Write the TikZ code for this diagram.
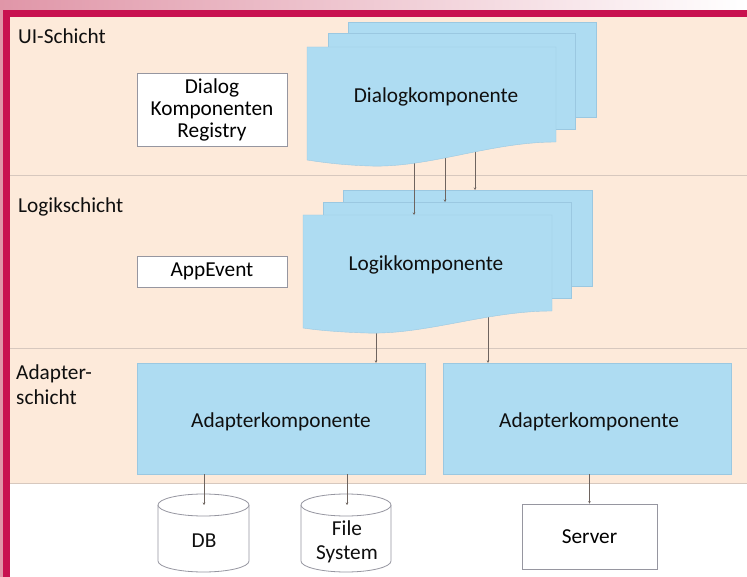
\documentclass[tikz,border=0pt]{standalone}
\usepackage{fontspec}
\setmainfont{Carlito}
\usetikzlibrary{arrows.meta}
\definecolor{peach}{RGB}{253,234,218}
\definecolor{crim}{RGB}{200,18,80}
\definecolor{pinkl}{RGB}{224,150,168}
\definecolor{bluef}{RGB}{174,220,242}
\definecolor{blued}{RGB}{155,200,225}
\definecolor{sepc}{RGB}{215,200,190}
\definecolor{connc}{RGB}{110,100,95}
\definecolor{boxd}{RGB}{150,150,160}
\definecolor{txt}{RGB}{15,15,15}
\tikzset{
  blueshape/.style={fill=bluef, draw=blued, line width=0.4pt},
  whitebox/.style={fill=white, draw=boxd, line width=0.8pt, align=center, inner sep=0pt},
  adapterbox/.style={fill=bluef, draw=blued, line width=0.4pt, minimum width=288pt, minimum height=111pt, inner sep=0pt},
  conn/.style={draw=connc, line width=0.5pt, -{Stealth[length=2.5pt,width=2.5pt]}},
  layerlabel/.style={anchor=west, inner sep=0pt, align=left, text=txt},
  lbl/.style={text=txt, align=center, inner sep=0pt}
}
\begin{document}
\begin{tikzpicture}[x=1pt,y=-1pt, font=\fontsize{21.3}{22}\selectfont]
\useasboundingbox (0,0) rectangle (747,577);
% frame and background
\shade[left color=pinkl, right color=white] (0,0) rectangle (747,10);
\fill[pinkl] (0,10) rectangle (3,577);
\fill[crim] (3,10) rectangle (747,17);
\fill[crim] (3,10) rectangle (10,577);
\fill[peach] (10,17) rectangle (747,483);
\fill[white] (10,483) rectangle (747,577);
\draw[sepc, line width=0.6pt] (10,175) -- (747,175);
\draw[sepc, line width=0.6pt] (10,348) -- (747,348);
\draw[sepc, line width=0.6pt] (10,483) -- (747,483);
% layer labels
\node[layerlabel] (lui) at (18,36) {UI-Schicht};
\node[layerlabel] (llogik) at (18,207) {Logikschicht};
\node[layerlabel, font=\fontsize{21.3}{25}\selectfont] (ladapter) at (16,385) {Adapter-\\schicht};
% back documents
\draw[blueshape] (348,22) rectangle (596,117);
\draw[blueshape] (328,33) rectangle (575,129);
\draw[blueshape] (343,190) rectangle (592,286);
\draw[blueshape] (323,202) rectangle (571,298);
% connector coordinates
\coordinate (d1) at (414,150);
\coordinate (d2) at (445,150);
\coordinate (d3) at (475,148);
\coordinate (l1) at (414,215);
\coordinate (l2) at (445,202);
\coordinate (l3) at (475,190);
\coordinate (lo1) at (376,320);
\coordinate (lo2) at (488,300);
% connectors dialog -> logik
\draw[conn] (d1) -- (l1);
\draw[conn] (d2) -- (l2);
\draw[conn] (d3) -- (l3);
% front documents
\draw[blueshape] (307,47) -- (556,47) -- (556,142)
  .. controls (490,142) and (430,168) .. (370,166)
  .. controls (340,165) and (320,162) .. (307,160) -- cycle;
\node[lbl] (dialog) at (436,97) {Dialogkomponente};
% adapters
\node[adapterbox] (adL) at (281,418.5) {};
\node[adapterbox] (adR) at (587,418.5) {};
\node[lbl] (adLt) at (281,422) {Adapterkomponente};
\node[lbl] (adRt) at (589,422) {Adapterkomponente};
% connectors logik -> adapter
\draw[conn] (lo1) -- (lo1 |- adL.north);
\draw[conn] (lo2) -- (lo2 |- adR.north);
\draw[blueshape] (303,215) -- (552,215) -- (552,311)
  .. controls (486,311) and (426,335) .. (366,333)
  .. controls (336,332) and (316,330) .. (303,328) -- cycle;
\node[lbl] (logik) at (426,265) {Logikkomponente};
% white boxes
\node[whitebox, minimum width=150pt, minimum height=73pt] (reg) at (212,109.5) {Dialog\\Komponenten\\Registry};
\node[whitebox, minimum width=150pt, minimum height=31pt] (app) at (212,271.5) {AppEvent};
\node[whitebox, minimum width=135pt, minimum height=65pt] (server) at (589.5,536.5) {Server};
% cylinders
\draw[whitebox] (158,505) -- (158,561) arc[start angle=180, end angle=360, x radius=45.5pt, y radius=11pt]
  -- (249,505) arc[start angle=0, end angle=180, x radius=45.5pt, y radius=11pt] -- cycle;
\draw[whitebox] (158,505) arc[start angle=180, end angle=360, x radius=45.5pt, y radius=11pt];
\draw[whitebox] (301,505) -- (301,561) arc[start angle=180, end angle=360, x radius=45pt, y radius=11pt]
  -- (391,505) arc[start angle=0, end angle=180, x radius=45pt, y radius=11pt] -- cycle;
\draw[whitebox] (301,505) arc[start angle=180, end angle=360, x radius=45pt, y radius=11pt];
\coordinate (dbtop) at (204,505);
\coordinate (fstop) at (347,505);
\node[lbl] (db) at (204,541) {DB};
\node[lbl, font=\fontsize{21.3}{24}\selectfont] (fs) at (347,541.5) {File\\System};
% connectors adapter -> storage
\draw[conn] (adL.south -| dbtop) -- (dbtop);
\draw[conn] (adL.south -| fstop) -- (fstop);
\draw[conn] (adR.south -| server.north) -- (server.north);
\end{tikzpicture}
\end{document}
